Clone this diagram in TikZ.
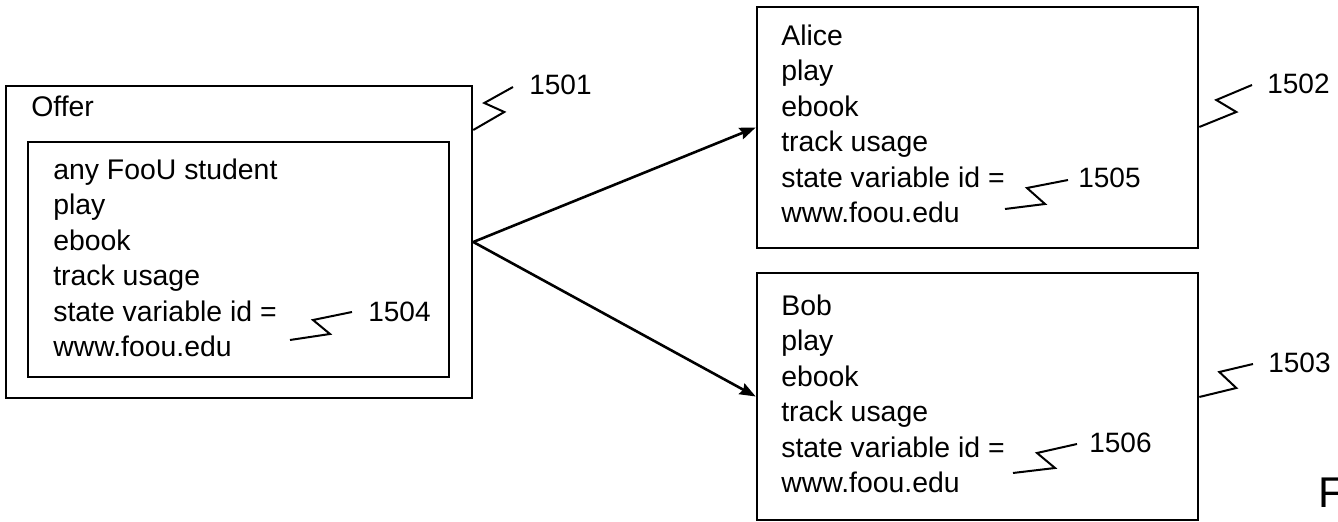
\documentclass[tikz,border=0pt]{standalone}
\usepackage{fontspec}
\setmainfont{Liberation Sans}
\usetikzlibrary{arrows.meta}

\begin{document}
\begin{tikzpicture}[x=0.5pt, y=-0.5pt, line width=1.3pt,
	box/.style={draw, rectangle, inner sep=0pt},
	txt/.style={anchor=base west, align=left, inner sep=0pt, font=\fontsize{14.2}{17.75}\selectfont},
	num/.style={anchor=west, inner sep=0pt, font=\fontsize{14}{17}\selectfont},
	lead/.style={line width=1pt, line join=miter}]
				\useasboundingbox (0,0) rectangle (1338,522);
				\node [box, minimum width=233pt, minimum height=156pt] (offer) at (239, 242) {};
				\node [box, minimum width=210.5pt, minimum height=117.5pt] (terms) at (238.5, 259.5) {};
				\node [box, minimum width=220.5pt, minimum height=120.5pt] (alice) at (977.5, 127.5) {};
				\node [box, minimum width=220.5pt, minimum height=123.5pt] (bob) at (977.5, 396.5) {};
				\node [txt] (offertitle) at (30, 117) {Offer};
				\node [txt] (offertext) at (52, 357) {any FooU student\\play\\ebook\\track usage\\state variable id =\\www.foou.edu};
				\node [txt] (alicetext) at (780, 223) {Alice\\play\\ebook\\track usage\\state variable id =\\www.foou.edu};
				\node [txt] (bobtext) at (780, 493) {Bob\\play\\ebook\\track usage\\state variable id =\\www.foou.edu};
				\node [num] (n1501) at (528, 85) {1501};
				\node [num] (n1502) at (1266, 84) {1502};
				\node [num] (n1503) at (1267, 363) {1503};
				\node [num] (n1504) at (367, 312) {1504};
				\node [num] (n1505) at (1077, 178) {1505};
				\node [num] (n1506) at (1088, 443) {1506};
				\node [anchor=base west, inner sep=0pt, font=\fontsize{21.5}{22}\selectfont] (fig) at (1317, 508) {F};
				\coordinate (s1504) at (290, 340);
				\coordinate (s1505) at (1005, 209);
				\coordinate (s1506) at (1013, 473);
				\draw [-{Stealth[length=8pt, width=6pt, inset=1pt]}] (offer.east) -- (alice.west);
				\draw [-{Stealth[length=8pt, width=6pt, inset=1pt]}] (offer.east) -- (bob.west);
				\draw [lead] (offer.east |- 0,130) -- ++(31,-18) -- ++(-20,-9) -- ([xshift=-7.5pt, yshift=-1pt]n1501.west);
				\draw [lead] (alice.east |- 0,127) -- ++(37,-15) -- ++(-20,-12) -- ([xshift=-7pt, yshift=-0.5pt]n1502.west);
				\draw [lead] (bob.east |- 0,397) -- ++(37,-9) -- ++(-17,-16) -- ([xshift=-7pt, yshift=-0.5pt]n1503.west);
				\draw [lead] (s1504) -- ++(40,-6) -- ++(-17,-14) -- ([xshift=-7.5pt]n1504.west);
				\draw [lead] (s1505) -- ++(40,-5) -- ++(-18,-16) -- ([xshift=-4.5pt, yshift=-1pt]n1505.west);
				\draw [lead] (s1506) -- ++(42,-5) -- ++(-18,-15) -- ([xshift=-5.5pt, yshift=-0.5pt]n1506.west);
\end{tikzpicture}
\end{document}
